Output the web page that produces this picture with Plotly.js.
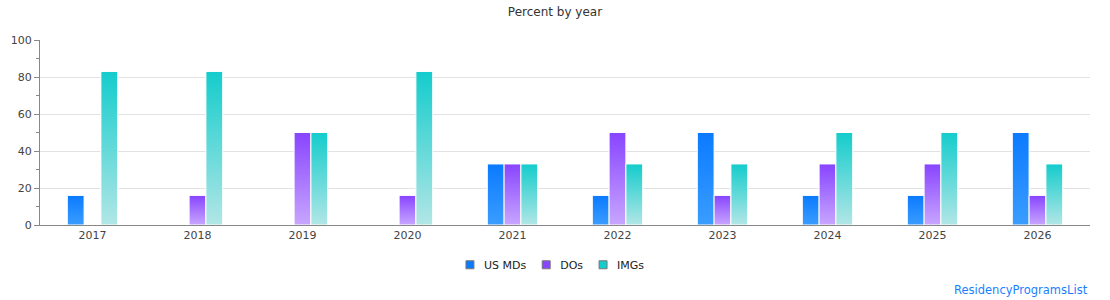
<!DOCTYPE html>
<html>
<head>
<meta charset="utf-8">
<script src="https://cdn.plot.ly/plotly-3.0.1.min.js"></script>
<style>html,body{margin:0;padding:0;background:#fff;}#chart{width:1110px;height:300px;}</style>
</head>
<body>
<div id="chart"></div>
<script>
var years = ["2017","2018","2019","2020","2021","2022","2023","2024","2025","2026"];
var seriesNames = ["US MDs","DOs","IMGs"];
var usMDs = [16, 0, 0, 0, 33, 16, 50, 16, 16, 50];
var dos   = [0, 16, 50, 16, 33, 50, 16, 33, 33, 16];
var imgs  = [83, 83, 50, 83, 33, 33, 33, 50, 50, 33];
var yTicks = [0, 20, 40, 60, 80, 100];

var topColors = ["#0a7aff", "#8844ff", "#14cccc"];
var bottomColors = ["#3a9dff", "#c8a6ff", "#b2e6e6"];
var allValues = [usMDs, dos, imgs];

var traces = allValues.map(function(v, i){
  return {
    type: "bar", x: years, y: v, name: seriesNames[i],
    marker: {color: topColors[i], line: {color: "#ffffff", width: 1}},
    hoverinfo: "x+y+name"
  };
});

var layout = {
  width: 1110, height: 300,
  margin: {l: 40, r: 20, t: 40, b: 75},
  paper_bgcolor: "#ffffff", plot_bgcolor: "#ffffff",
  font: {family: "DejaVu Sans, Verdana, sans-serif", size: 11, color: "#444"},
  title: {text: "Percent by year", x: 0.5, xanchor: "center", y: 0.96, yanchor: "middle",
          font: {size: 12, color: "#333"}},
  barmode: "group", bargap: 0.52, bargroupgap: 0,
  showlegend: true,
  legend: {orientation: "h", x: 0.5, xanchor: "center", y: -0.215, yanchor: "middle",
           font: {size: 11, color: "#222"}, itemwidth: 30, traceorder: "normal"},
  xaxis: {type: "category", showline: true, linecolor: "#888", linewidth: 1,
          ticks: "", showgrid: false, tickfont: {size: 11, color: "#444"}, fixedrange: true},
  yaxis: {range: [0, 100], tickvals: yTicks, ticks: "outside", ticklen: 5, tickcolor: "#888",
          showline: true, linecolor: "#888", linewidth: 1, gridcolor: "#e2e2e2",
          zeroline: false, tickfont: {size: 11, color: "#444"},
          minor: {dtick: 10, ticks: "outside", ticklen: 3, tickcolor: "#888", showgrid: false},
          fixedrange: true},
  annotations: [{text: "ResidencyProgramsList", xref: "paper", yref: "paper",
                 x: 1.0, xanchor: "right", y: -0.35, yanchor: "middle", showarrow: false,
                 font: {size: 11.5, color: "#1a7fff"}}]
};

function parseTranslate(t){
  var m = /translate\(\s*([-\d.]+)[ ,]+([-\d.]+)\s*\)/.exec(t || "");
  return m ? [parseFloat(m[1]), parseFloat(m[2])] : [0, 0];
}

function applyGradients(){
  var svg = document.querySelector("#chart .main-svg");
  var ns = "http://www.w3.org/2000/svg";
  var defs = svg.querySelector("defs#customgrads");
  if (!defs) {
    defs = document.createElementNS(ns, "defs");
    defs.setAttribute("id", "customgrads");
    svg.insertBefore(defs, svg.firstChild);
    for (var i = 0; i < 3; i++) {
      var g = document.createElementNS(ns, "linearGradient");
      g.setAttribute("id", "grad" + i);
      g.setAttribute("x1", "0"); g.setAttribute("y1", "0");
      g.setAttribute("x2", "0"); g.setAttribute("y2", "1");
      var s1 = document.createElementNS(ns, "stop");
      s1.setAttribute("offset", "0"); s1.setAttribute("stop-color", topColors[i]);
      var s2 = document.createElementNS(ns, "stop");
      s2.setAttribute("offset", "1"); s2.setAttribute("stop-color", bottomColors[i]);
      g.appendChild(s1); g.appendChild(s2); defs.appendChild(g);
    }
  }
  var groups = document.querySelectorAll("#chart .barlayer .trace.bars");
  groups.forEach(function(gr, i){
    gr.querySelectorAll(".point path").forEach(function(p){
      p.style.fill = "url(#grad" + i + ")";
    });
  });

  // compact legend
  var legend = document.querySelector("#chart .legend");
  if (!legend) return;
  var lt = parseTranslate(legend.getAttribute("transform"));
  var items = legend.querySelectorAll(".traces");
  var widths = [];
  items.forEach(function(it){
    it.querySelectorAll(".legendpoints path").forEach(function(p){
      p.setAttribute("d", "M4,4H-4V-4H4Z");
      p.style.stroke = "#777"; p.style.strokeWidth = "1px";
    });
    var txt = it.querySelector("text.legendtext");
    txt.setAttribute("x", 34);
    widths.push(txt.getComputedTextLength());
  });
  var total = 0;
  widths.forEach(function(w, i){ total += 18 + w + (i < widths.length - 1 ? 16 : 0); });
  var absStart = 555 - total / 2;
  var cursor = absStart;
  items.forEach(function(it, i){
    var t = parseTranslate(it.getAttribute("transform"));
    var localStart = cursor - lt[0] - 16;
    it.setAttribute("transform", "translate(" + localStart + "," + t[1] + ")");
    cursor += 18 + widths[i] + 16;
  });
}

Plotly.newPlot("chart", traces, layout, {displayModeBar: false, responsive: false}).then(function(gd){
  applyGradients();
  gd.on("plotly_afterplot", applyGradients);
});
</script>
</body>
</html>
